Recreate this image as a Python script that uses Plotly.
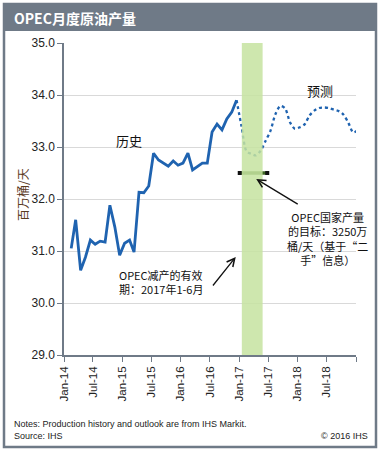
import plotly.graph_objects as go
import pandas as pd

# ---------------- data ----------------
history_start = "2014-01-15"
history_values = [31.05, 31.60, 30.63, 30.88, 31.21, 31.13, 31.19, 31.17, 31.88, 31.46,
                  30.92, 31.15, 31.21, 30.98, 32.13, 32.12, 32.25, 32.88, 32.75, 32.69,
                  32.63, 32.73, 32.65, 32.69, 32.88, 32.56, 32.63, 32.69, 32.69, 33.29,
                  33.44, 33.33, 33.54, 33.67, 33.90]
forecast_start = "2016-11-15"
forecast_values = [33.90, 33.40, 32.92, 32.87, 32.84, 32.93, 33.12, 33.31, 33.63, 33.79,
                   33.74, 33.47, 33.35, 33.38, 33.44, 33.60, 33.70, 33.75, 33.76, 33.75,
                   33.72, 33.69, 33.62, 33.46, 33.28, 33.33]
cut_period = ["2017-01-17", "2017-05-27"]
target_period = ["2017-01-04", "2017-06-25"]
target_value = 32.5
y_ticks = [29.0, 30.0, 31.0, 32.0, 33.0, 34.0, 35.0]
x_tick_vals = ["2014-01-01", "2014-07-01", "2015-01-01", "2015-07-01", "2016-01-01",
               "2016-07-01", "2017-01-01", "2017-07-01", "2018-01-01", "2018-07-01", "2019-01-01"]
x_tick_text = ["Jan-14", "Jul-14", "Jan-15", "Jul-15", "Jan-16",
               "Jul-16", "Jan-17", "Jul-17", "Jan-18", "Jul-18", ""]

title_text = "OPEC月度原油产量"
y_title = "百万桶/天"
label_hist = "历史"
label_fore = "预测"
note_target = ["OPEC国家产量", "的目标：3250万", "桶/天（基于“二", "手”信息）"]
note_cut = ["OPEC减产的有效", "期：2017年1-6月"]
note_lines = ["Notes: Production history and outlook are from IHS Markit.", "Source: IHS"]
copyright_text = "© 2016 IHS"

# dates (mid-month positions)
hist_x = pd.date_range(history_start, periods=len(history_values), freq="MS") + pd.Timedelta(days=14)
fore_x = pd.date_range(forecast_start, periods=len(forecast_values), freq="MS") + pd.Timedelta(days=14)

# ---------------- layout geometry (pixels) ----------------
W, H = 381, 453
L, R, T, B = 64, 25, 43, 98
pw, ph = W - L - R, H - T - B


def px(xp):
    return (xp - L) / pw


def py(yp):
    return (H - B - yp) / ph


blue = "#1f63b0"
frame = "#6f7a87"
font_main = "Liberation Sans, Arial, Noto Sans CJK SC, sans-serif"
font_cjk = "Noto Sans CJK SC, Liberation Sans, sans-serif"

fig = go.Figure()

fig.add_trace(go.Scatter(x=hist_x, y=history_values, mode="lines",
                         line=dict(color=blue, width=2.8), hoverinfo="skip"))
fig.add_trace(go.Scatter(x=fore_x, y=forecast_values, mode="lines",
                         line=dict(color=blue, width=2.3, dash="dot", shape="spline", smoothing=0.8),
                         hoverinfo="skip"))

# cut period band
fig.add_shape(type="rect", xref="x", yref="y", x0=cut_period[0], x1=cut_period[1],
              y0=29, y1=35, fillcolor="#c6e3a0", opacity=0.85, line_width=0, layer="above")

# target bar
fig.add_trace(go.Scatter(x=target_period, y=[target_value, target_value], mode="lines",
                         line=dict(color="#3e6625", width=3.5), hoverinfo="skip"))
fig.add_trace(go.Scatter(x=target_period, y=[target_value, target_value], mode="markers",
                         marker=dict(color="#111111", size=4, symbol="square"), hoverinfo="skip"))

# frame and title bar
fig.add_shape(type="rect", xref="paper", yref="paper", x0=px(4), x1=px(376), y0=py(447), y1=py(4),
              line=dict(color=frame, width=2.5), fillcolor="rgba(0,0,0,0)", layer="below")
fig.add_shape(type="rect", xref="paper", yref="paper", x0=px(4), x1=px(376), y0=py(31), y1=py(4),
              line=dict(color=frame, width=0), fillcolor=frame, layer="below")

annotations = [
    dict(text="<b>" + title_text + "</b>", xref="paper", yref="paper", x=px(12), y=py(18),
         xanchor="left", yanchor="middle", showarrow=False,
         font=dict(family=font_cjk, size=14, color="white")),
    dict(text=y_title, xref="paper", yref="paper", x=px(22), y=py(195), textangle=-90,
         xanchor="center", yanchor="middle", showarrow=False,
         font=dict(family=font_cjk, size=12, color="#5b3b1f")),
    dict(text=label_hist, xref="x", yref="y", x="2015-02-10", y=33.12, showarrow=False,
         font=dict(family=font_cjk, size=13, color="#111111")),
    dict(text=label_fore, xref="x", yref="y", x="2018-05-20", y=34.08, showarrow=False,
         font=dict(family=font_cjk, size=13, color="#111111")),
    dict(text="", xref="x", yref="y", x="2017-04-17", y=32.385, ax=43, ay=26,
         showarrow=True, arrowhead=5, arrowsize=1.2, arrowwidth=1.3, arrowcolor="#111111"),
    dict(text="", xref="x", yref="y", x="2016-12-10", y=30.885, ax=-24, ay=30,
         showarrow=True, arrowhead=5, arrowsize=1.2, arrowwidth=1.3, arrowcolor="#111111"),
    dict(text=copyright_text, xref="paper", yref="paper", x=px(370), y=py(436),
         xanchor="right", yanchor="middle", showarrow=False,
         font=dict(family=font_main, size=9, color="#222222")),
    dict(text="<br>".join(note_target), xref="paper", yref="paper", x=px(327), y=py(238),
         xanchor="center", yanchor="middle", align="center", showarrow=False,
         font=dict(family=font_cjk, size=11, color="#111111")),
    dict(text="<br>".join(note_cut), xref="paper", yref="paper", x=px(117), y=py(282),
         xanchor="left", yanchor="middle", align="left", showarrow=False,
         font=dict(family=font_cjk, size=11, color="#111111")),
    dict(text="<br>".join(note_lines), xref="paper", yref="paper", x=px(12), y=py(430),
         xanchor="left", yanchor="middle", align="left", showarrow=False,
         font=dict(family=font_main, size=9, color="#222222")),
]

fig.update_layout(
    width=W, height=H,
    margin=dict(l=L, r=R, t=T, b=B),
    paper_bgcolor="white", plot_bgcolor="white",
    showlegend=False,
    annotations=annotations,
    font=dict(family=font_main, size=12, color="#222222"),
    xaxis=dict(range=["2014-01-01", "2019-01-01"], type="date",
               tickvals=x_tick_vals, ticktext=x_tick_text, tickangle=-90,
               ticks="outside", ticklen=5, tickcolor=frame, tickwidth=1,
               showline=True, linecolor=frame, linewidth=1.5, showgrid=False,
               tickfont=dict(family=font_main, size=11.5, color="#222222"), zeroline=False),
    yaxis=dict(range=[29, 35], tickvals=y_ticks, tickformat=".1f",
               ticks="outside", ticklen=5, tickcolor=frame, tickwidth=1,
               showline=True, linecolor=frame, linewidth=1.5,
               showgrid=True, gridcolor="#d9d9d9", gridwidth=1, zeroline=False,
               tickfont=dict(family=font_main, size=12, color="#222222")),
)

fig.write_html("out.html", post_script="document.body.style.margin='0';",
               config={"displayModeBar": False})
